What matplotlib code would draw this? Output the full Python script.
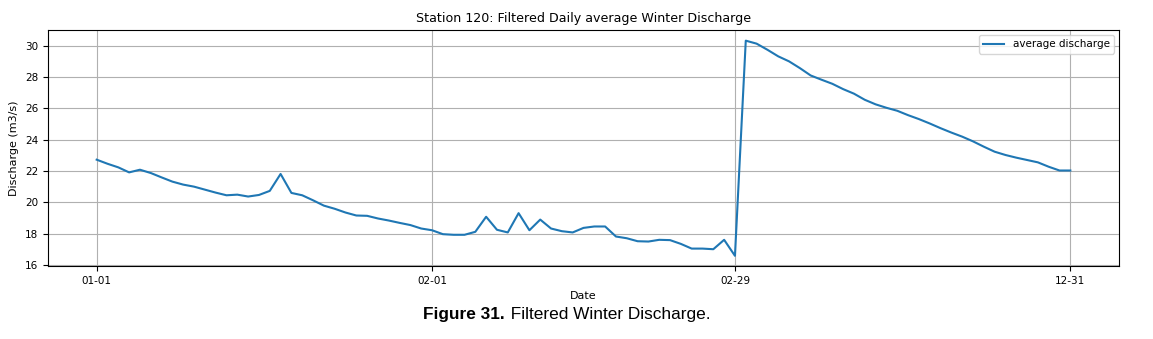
import pandas as pd
import matplotlib.pyplot as plt

# winter days: Jan 1 - Feb 29, then Dec 1 - Dec 31
days = list(pd.date_range("2020-01-01", "2020-02-29").strftime("%m-%d")) + \
    list(pd.date_range("2020-12-01", "2020-12-31").strftime("%m-%d"))

discharge = [
    22.73, 22.47, 22.24, 21.92, 22.09, 21.88, 21.60, 21.33, 21.14, 21.01,
    20.82, 20.63, 20.46, 20.50, 20.38, 20.48, 20.74, 21.82, 20.61, 20.46,
    20.14, 19.80, 19.60, 19.36, 19.17, 19.15, 18.98, 18.85, 18.70, 18.56,
    18.34, 18.23, 17.98, 17.94, 17.94, 18.13, 19.09, 18.26, 18.09, 19.32,
    18.23, 18.91, 18.34, 18.17, 18.09, 18.38, 18.47, 18.47, 17.83, 17.72,
    17.53, 17.51, 17.62, 17.60, 17.36, 17.06, 17.06, 17.02, 17.62, 16.60,
    30.32, 30.13, 29.74, 29.32, 29.00, 28.57, 28.10, 27.83, 27.57, 27.23,
    26.94, 26.55, 26.26, 26.04, 25.85, 25.57, 25.32, 25.04, 24.74, 24.46,
    24.20, 23.90, 23.56, 23.24, 23.03, 22.86, 22.71, 22.56, 22.28, 22.04,
    22.04,
]

tick_days = ["01-01", "02-01", "02-29", "12-31"]

fig = plt.figure(figsize=(11.53, 3.39), dpi=100)
ax = fig.add_axes([48 / 1153, 1 - 266 / 339, (1119 - 48) / 1153, (266 - 30) / 339])

x = list(range(len(days)))
ax.plot(x, discharge, color="#1f77b4", lw=1.5, label="average discharge")

ticks = [days.index(d) for d in tick_days]
ax.set_xticks(ticks)
ax.set_xticklabels(tick_days, fontsize=7.5)
ax.tick_params(axis="y", labelsize=7.5)
ax.set_yticks(range(16, 31, 2))
ax.set_ylim(15.95, 31.0)
ax.grid(True, color="#b0b0b0", lw=0.8)

ax.set_xlabel("Date", fontsize=8)
ax.set_ylabel("Discharge (m3/s)", fontsize=8)
ax.set_title("Station 120: Filtered Daily average Winter Discharge", fontsize=9.1)
ax.legend(loc="upper right", fontsize=7.5)

# caption under the chart
fig.text(505 / 1153, 0.073, "Figure 31.", fontsize=12.4, ha="right",
         family="Liberation Sans", fontweight="bold", va="center")
fig.text(506 / 1153, 0.073, " Filtered Winter Discharge.", fontsize=12.4, ha="left",
         family="Liberation Sans", va="center")

plt.savefig("out.png", dpi=100)
